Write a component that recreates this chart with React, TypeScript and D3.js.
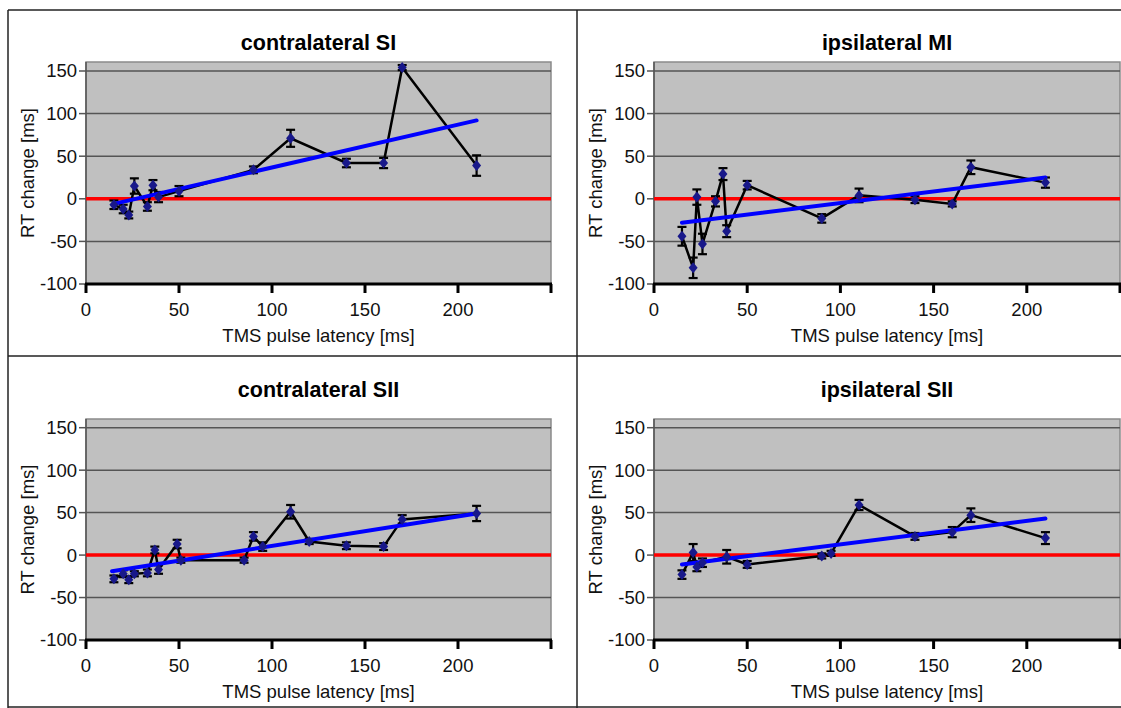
import React from "react";
import * as d3 from "d3";

const xTicks = [0, 50, 100, 150, 200, 250];
const xTickLabels = ["0", "50", "100", "150", "200"];
const yTicks = [-100, -50, 0, 50, 100, 150];

const titles = ["contralateral SI", "ipsilateral MI", "contralateral SII", "ipsilateral SII"];

const latSI = [15, 20, 23, 26, 33, 36, 39, 50, 90, 110, 140, 160, 170, 210];
const rtSI = [-7, -12, -19, 15, -9, 16, 2, 9, 34, 71, 42, 42, 154, 39];
const errSI = [5, 5, 4, 9, 5, 6, 6, 6, 4, 10, 5, 6, 3, 12];
const trendSI = [[15, -6], [210, 92]];

const latMI = [15, 21, 23, 26, 33, 37, 39, 50, 90, 110, 140, 160, 170, 210];
const rtMI = [-44, -81, 2, -53, -3, 29, -38, 16, -23, 4, -1, -6, 37, 19];
const errMI = [11, 12, 9, 12, 6, 7, 7, 5, 5, 8, 4, 3, 8, 6];
const trendMI = [[15, -28], [210, 25]];

const latSII = [15, 20, 23, 26, 33, 37, 39, 49, 51, 85, 90, 95, 110, 120, 140, 160, 170, 210];
const rtSII = [-28, -22, -29, -22, -21, 6, -17, 13, -6, -6, 22, 10, 51, 16, 11, 10, 42, 49];
const errSII = [4, 4, 4, 3, 4, 4, 5, 5, 3, 3, 5, 5, 8, 3, 4, 4, 5, 9];
const trendSII = [[14, -19], [210, 49]];

const latISII = [15, 21, 23, 26, 39, 50, 90, 95, 110, 140, 160, 170, 210];
const rtISII = [-23, 3, -14, -9, -2, -11, -1, 2, 59, 22, 27, 47, 20];
const errISII = [5, 10, 5, 5, 8, 4, 3, 3, 6, 4, 6, 8, 7];
const trendISII = [[15, -11], [210, 43]];

const FONT = "'Liberation Sans', Arial, Helvetica, sans-serif";

type PanelProps = {
  title: string;
  xs: number[];
  ys: number[];
  es: number[];
  trend: number[][];
  left: number;
  right: number;
  yBottom: number;
  yTop150: number;
  areaTop: number;
  titleY: number;
};

function Panel(p: PanelProps) {
  const x = d3.scaleLinear().domain([0, 250]).range([p.left, p.right]);
  const y = d3.scaleLinear().domain([-100, 150]).range([p.yBottom, p.yTop150]);
  const pts = p.xs.map((v, i) => [v, p.ys[i], p.es[i]]);
  const line = d3
    .line<number[]>()
    .x((d) => x(d[0]))
    .y((d) => y(d[1]));
  const cx = (p.left + p.right) / 2;
  const midY = (p.areaTop + p.yBottom) / 2;
  return (
    <g>
      <text x={cx} y={p.titleY} textAnchor="middle" fontFamily={FONT} fontWeight="bold" fontSize={21.5}>
        {p.title}
      </text>
      <rect x={p.left} y={p.areaTop} width={p.right - p.left} height={p.yBottom - p.areaTop} fill="#c0c0c0" stroke="#8a8a8a" strokeWidth={1.5} />
      {yTicks.map((t) => (
        <g key={t}>
          {t > -100 && <line x1={p.left} x2={p.right} y1={y(t)} y2={y(t)} stroke="#555" strokeWidth={1.5} />}
          <line x1={p.left - 7} x2={p.left} y1={y(t)} y2={y(t)} stroke="#555" strokeWidth={1.5} />
          <text x={p.left - 9} y={y(t)} dy="0.35em" textAnchor="end" fontFamily={FONT} fontSize={18.5} fill="#111">
            {t}
          </text>
        </g>
      ))}
      <line x1={p.left} x2={p.left} y1={p.areaTop} y2={p.yBottom} stroke="#555" strokeWidth={1.5} />
      <line x1={p.left - 1} x2={p.right + 1} y1={p.yBottom} y2={p.yBottom} stroke="#000" strokeWidth={3} />
      {xTicks.map((t) => (
        <line key={t} x1={x(t)} x2={x(t)} y1={p.yBottom} y2={p.yBottom + 9} stroke="#000" strokeWidth={3} />
      ))}
      {xTickLabels.map((t) => (
        <text key={t} x={x(+t)} y={p.yBottom + 32} textAnchor="middle" fontFamily={FONT} fontSize={18.5} fill="#111">
          {t}
        </text>
      ))}
      <text x={cx} y={p.yBottom + 58} textAnchor="middle" fontFamily={FONT} fontSize={18.5} fill="#111">
        TMS pulse latency [ms]
      </text>
      <text
        transform={`translate(${p.left - 52},${midY}) rotate(-90)`}
        textAnchor="middle"
        fontFamily={FONT}
        fontSize={18.5}
        fill="#111"
      >
        RT change [ms]
      </text>
      <line x1={p.left} x2={p.right} y1={y(0)} y2={y(0)} stroke="#ff0000" strokeWidth={3.5} />
      <path d={line(pts) || ""} fill="none" stroke="#000" strokeWidth={2.5} />
      {pts.map((d, i) => (
        <g key={i} stroke="#000" strokeWidth={2.2}>
          <line x1={x(d[0])} x2={x(d[0])} y1={y(d[1] - d[2])} y2={y(d[1] + d[2])} />
          <line x1={x(d[0]) - 4.5} x2={x(d[0]) + 4.5} y1={y(d[1] - d[2])} y2={y(d[1] - d[2])} />
          <line x1={x(d[0]) - 4.5} x2={x(d[0]) + 4.5} y1={y(d[1] + d[2])} y2={y(d[1] + d[2])} />
        </g>
      ))}
      <path d={line(p.trend) || ""} fill="none" stroke="#0000ff" strokeWidth={4} strokeLinecap="round" />
      {pts.map((d, i) => {
        const px = x(d[0]);
        const py = y(d[1]);
        return <path key={i} d={`M${px},${py - 5.5}L${px + 4.5},${py}L${px},${py + 5.5}L${px - 4.5},${py}Z`} fill="#18188a" />;
      })}
    </g>
  );
}

export default function App() {
  const top = { yBottom: 284, yTop150: 71, areaTop: 62, titleY: 50 };
  const bot = { yBottom: 640, yTop150: 427.7, areaTop: 419, titleY: 397 };
  const L = { left: 86, right: 551 };
  const R = { left: 654, right: 1120 };
  return (
    <svg width={1121} height={708} style={{ position: "absolute", left: 0, top: 0, background: "#fff" }}>
      <rect x={0} y={0} width={1121} height={708} fill="#fff" />
      <Panel title={titles[0]} xs={latSI} ys={rtSI} es={errSI} trend={trendSI} {...L} {...top} />
      <Panel title={titles[1]} xs={latMI} ys={rtMI} es={errMI} trend={trendMI} {...R} {...top} />
      <Panel title={titles[2]} xs={latSII} ys={rtSII} es={errSII} trend={trendSII} {...L} {...bot} />
      <Panel title={titles[3]} xs={latISII} ys={rtISII} es={errISII} trend={trendISII} {...R} {...bot} />
      <g stroke="#222" strokeWidth={1.5} fill="none">
        <line x1={8} x2={8} y1={10} y2={708} />
        <line x1={8} x2={1121} y1={10} y2={10} />
        <line x1={577} x2={577} y1={10} y2={708} />
        <line x1={8} x2={1121} y1={356} y2={356} />
        <line x1={8} x2={1121} y1={707} y2={707} />
      </g>
    </svg>
  );
}
